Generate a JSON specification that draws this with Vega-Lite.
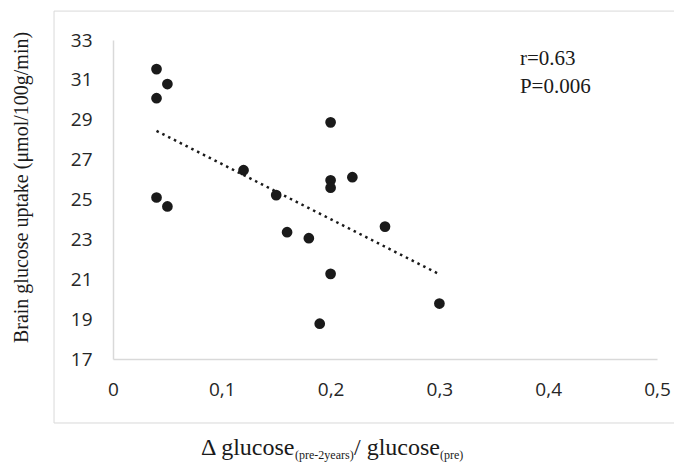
{
  "$schema": "https://vega.github.io/schema/vega-lite/v6.json",
  "width": 544,
  "height": 319,
  "autosize": {"type": "none"},
  "padding": {"left": 113, "top": 40, "right": 17, "bottom": 105},
  "background": "white",
  "config": {"view": {"stroke": null}},
  "datasets": {
    "pts": [
      {"delta": 0.04, "uptake": 31.54},
      {"delta": 0.05, "uptake": 30.79},
      {"delta": 0.04, "uptake": 30.08},
      {"delta": 0.04, "uptake": 25.10},
      {"delta": 0.05, "uptake": 24.65},
      {"delta": 0.12, "uptake": 26.47},
      {"delta": 0.15, "uptake": 25.22},
      {"delta": 0.16, "uptake": 23.36},
      {"delta": 0.18, "uptake": 23.06},
      {"delta": 0.19, "uptake": 18.77},
      {"delta": 0.20, "uptake": 28.87},
      {"delta": 0.20, "uptake": 25.96},
      {"delta": 0.20, "uptake": 25.59},
      {"delta": 0.20, "uptake": 21.27},
      {"delta": 0.22, "uptake": 26.12},
      {"delta": 0.25, "uptake": 23.64},
      {"delta": 0.30, "uptake": 19.78}
    ],
    "trend": [
      {"delta": 0.04, "uptake": 28.44},
      {"delta": 0.30, "uptake": 21.25}
    ],
    "one": [{}]
  },
  "layer": [
    {
      "data": {"name": "pts"},
      "mark": {"type": "point", "filled": true, "size": 115, "color": "#1a1a1a", "opacity": 1},
      "encoding": {
        "x": {
          "field": "delta", "type": "quantitative",
          "scale": {"domain": [0, 0.5], "nice": false, "zero": false},
          "axis": {
            "title": null, "values": [0, 0.1, 0.2, 0.3, 0.4, 0.5], "tickCount": 20,
            "labelExpr": "datum.value == 0 ? '0' : replace(format(datum.value, '.1f'), '.', ',')",
            "ticks": false, "grid": false, "domainColor": "#d9d9d9", "domainWidth": 1.5,
            "labelFont": "Open Sans", "labelFontSize": 19, "labelColor": "#262626",
            "labelPadding": 21, "labelFlush": false, "labelOverlap": false
          }
        },
        "y": {
          "field": "uptake", "type": "quantitative",
          "scale": {"domain": [17, 33], "nice": false, "zero": false},
          "axis": {
            "title": "Brain glucose uptake (μmol/100g/min)",
            "values": [17, 19, 21, 23, 25, 27, 29, 31, 33], "tickCount": 20,
            "ticks": false, "grid": false, "domainColor": "#d9d9d9", "domainWidth": 1.5,
            "labelFont": "Open Sans", "labelFontSize": 19, "labelColor": "#262626",
            "labelPadding": 21, "labelFlush": false, "labelOverlap": false,
            "titleFont": "Liberation Serif", "titleFontSize": 20, "titleFontWeight": "normal",
            "titleColor": "#1a1a1a", "titleAngle": -90, "titleX": -86, "titleY": 147,
            "titleAlign": "center", "titleBaseline": "alphabetic"
          }
        }
      }
    },
    {
      "data": {"name": "one"},
      "mark": {"type": "rect", "filled": false, "color": "#d9d9d9", "strokeWidth": 1, "clip": false},
      "encoding": {
        "x": {"datum": -0.0542, "type": "quantitative"},
        "x2": {"datum": 0.53},
        "y": {"datum": 34.45, "type": "quantitative"},
        "y2": {"datum": 13.79}
      }
    },
    {
      "data": {"name": "trend"},
      "mark": {"type": "line", "color": "#1a1a1a", "strokeWidth": 2.5, "strokeDash": [2.5, 4]},
      "encoding": {
        "x": {"field": "delta", "type": "quantitative"},
        "y": {"field": "uptake", "type": "quantitative"}
      }
    },
    {
      "data": {"name": "one"},
      "mark": {"type": "text", "font": "Liberation Serif", "fontSize": 21, "color": "#1a1a1a", "align": "left", "baseline": "alphabetic", "lineHeight": 28, "clip": false},
      "encoding": {
        "x": {"datum": 0.374, "type": "quantitative"},
        "y": {"datum": 31.746, "type": "quantitative"},
        "text": {"value": ["r=0.63", "P=0.006"]}
      }
    },
    {
      "data": {"name": "one"},
      "mark": {"type": "text", "font": "Liberation Serif", "fontSize": 24, "color": "#1a1a1a", "align": "left", "baseline": "alphabetic", "clip": false},
      "encoding": {
        "x": {"datum": 0.0809, "type": "quantitative"},
        "y": {"datum": 12.186, "type": "quantitative"},
        "text": {"value": "Δ glucose"}
      }
    },
    {
      "data": {"name": "one"},
      "mark": {"type": "text", "font": "Liberation Serif", "fontSize": 12, "color": "#1a1a1a", "align": "left", "baseline": "alphabetic", "clip": false},
      "encoding": {
        "x": {"datum": 0.1673, "type": "quantitative"},
        "y": {"datum": 11.985, "type": "quantitative"},
        "text": {"value": "(pre-2years)"}
      }
    },
    {
      "data": {"name": "one"},
      "mark": {"type": "text", "font": "Liberation Serif", "fontSize": 24, "color": "#1a1a1a", "align": "left", "baseline": "alphabetic", "clip": false},
      "encoding": {
        "x": {"datum": 0.2215, "type": "quantitative"},
        "y": {"datum": 12.186, "type": "quantitative"},
        "text": {"value": "/ glucose"}
      }
    },
    {
      "data": {"name": "one"},
      "mark": {"type": "text", "font": "Liberation Serif", "fontSize": 12, "color": "#1a1a1a", "align": "left", "baseline": "alphabetic", "clip": false},
      "encoding": {
        "x": {"datum": 0.3006, "type": "quantitative"},
        "y": {"datum": 11.985, "type": "quantitative"},
        "text": {"value": "(pre)"}
      }
    }
  ]
}
